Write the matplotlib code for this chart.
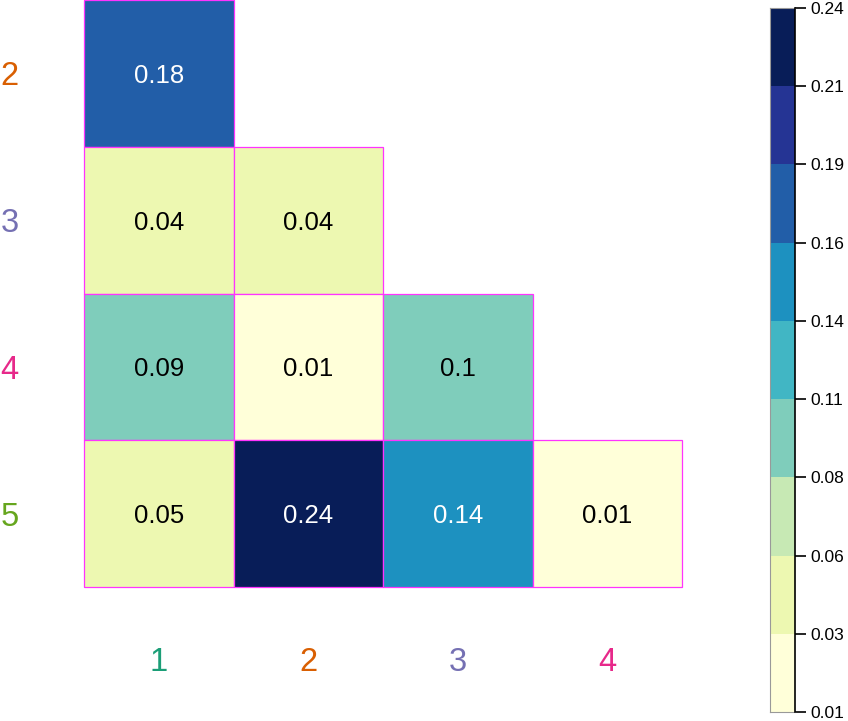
import numpy as np
import matplotlib
matplotlib.use("Agg")
import matplotlib.pyplot as plt
from matplotlib.colors import ListedColormap, BoundaryNorm
from matplotlib.patches import Rectangle

plt.rcParams['font.family'] = ['Liberation Sans', 'DejaVu Sans']

row_labels = ["2", "3", "4", "5"]
col_labels = ["1", "2", "3", "4"]
label_colors = {"1": "#1B9E77", "2": "#D95F02", "3": "#7570B3", "4": "#E7298A", "5": "#66A61E"}
# lower-triangle values: rows 2..5, cols 1..4 (nan = empty)
values = [
    [0.18, np.nan, np.nan, np.nan],
    [0.04, 0.04, np.nan, np.nan],
    [0.09, 0.01, 0.10, np.nan],
    [0.05, 0.24, 0.14, 0.01],
]
bounds = [0.01, 0.03, 0.06, 0.08, 0.11, 0.14, 0.16, 0.19, 0.21, 0.24]
bound_labels = ["0.01", "0.03", "0.06", "0.08", "0.11", "0.14", "0.16", "0.19", "0.21", "0.24"]
colors = ["#ffffd9", "#edf8b1", "#c7e9b4", "#7fcdbb", "#41b6c4",
          "#1d91c0", "#225ea8", "#253494", "#081d58"]

cmap = ListedColormap(colors)
norm = BoundaryNorm(bounds, cmap.N)

W, H = 848, 721
fig = plt.figure(figsize=(W / 100, H / 100), dpi=100)
ax = fig.add_axes([84 / W, 1 - 587 / H, (682 - 84) / W, 587 / H])
ax.set_xlim(0, 4)
ax.set_ylim(4, 0)
ax.axis("off")

for i, row in enumerate(values):
    for j, v in enumerate(row):
        if np.isnan(v):
            continue
        c = cmap(norm(v))
        ax.add_patch(Rectangle((j, i), 1, 1, facecolor=c, edgecolor="#FF33FF",
                               linewidth=0.9, clip_on=False))
        s = f"{v:g}"
        ax.text(j + 0.5, i + 0.5, s, ha="center", va="center_baseline", fontsize=18.5,
                color="white" if v >= 0.13 else "black")

for i, lab in enumerate(row_labels):
    ax.text(-84 / (598 / 4) + 0.065, i + 0.5, lab, ha="center", va="center_baseline",
            fontsize=23.5, color=label_colors[lab], clip_on=False)
for j, lab in enumerate(col_labels):
    ax.text(j + 0.5, 4 + (659 - 587) / (587 / 4), lab, ha="center", va="center_baseline",
            fontsize=23.5, color=label_colors[lab], clip_on=False)

cax = fig.add_axes([770 / W, 1 - 712 / H, 25 / W, (712 - 8) / H])
n = len(colors)
for k in range(n):
    cax.add_patch(Rectangle((0, k), 1, 1, facecolor=colors[k], edgecolor="none"))
cax.set_xlim(0, 1)
cax.set_ylim(0, n)
for side in ["top", "bottom", "left"]:
    cax.spines[side].set_visible(False)
cax.spines["right"].set_linewidth(1.2)
cax.spines["right"].set_color("black")
cax.set_xticks([])
cax.yaxis.tick_right()
cax.set_yticks(np.arange(n + 1))
cax.set_yticklabels(bound_labels, fontsize=12.5)
cax.tick_params(axis="y", length=8, width=1.2, pad=3)
cax.plot([0, 0], [0, n], color="#999999", lw=0.8, clip_on=False)
cax.plot([0, 1], [0, 0], color="#999999", lw=0.8, clip_on=False)
cax.plot([0, 1], [n, n], color="#999999", lw=0.8, clip_on=False)

fig.savefig("out.png", dpi=100)
